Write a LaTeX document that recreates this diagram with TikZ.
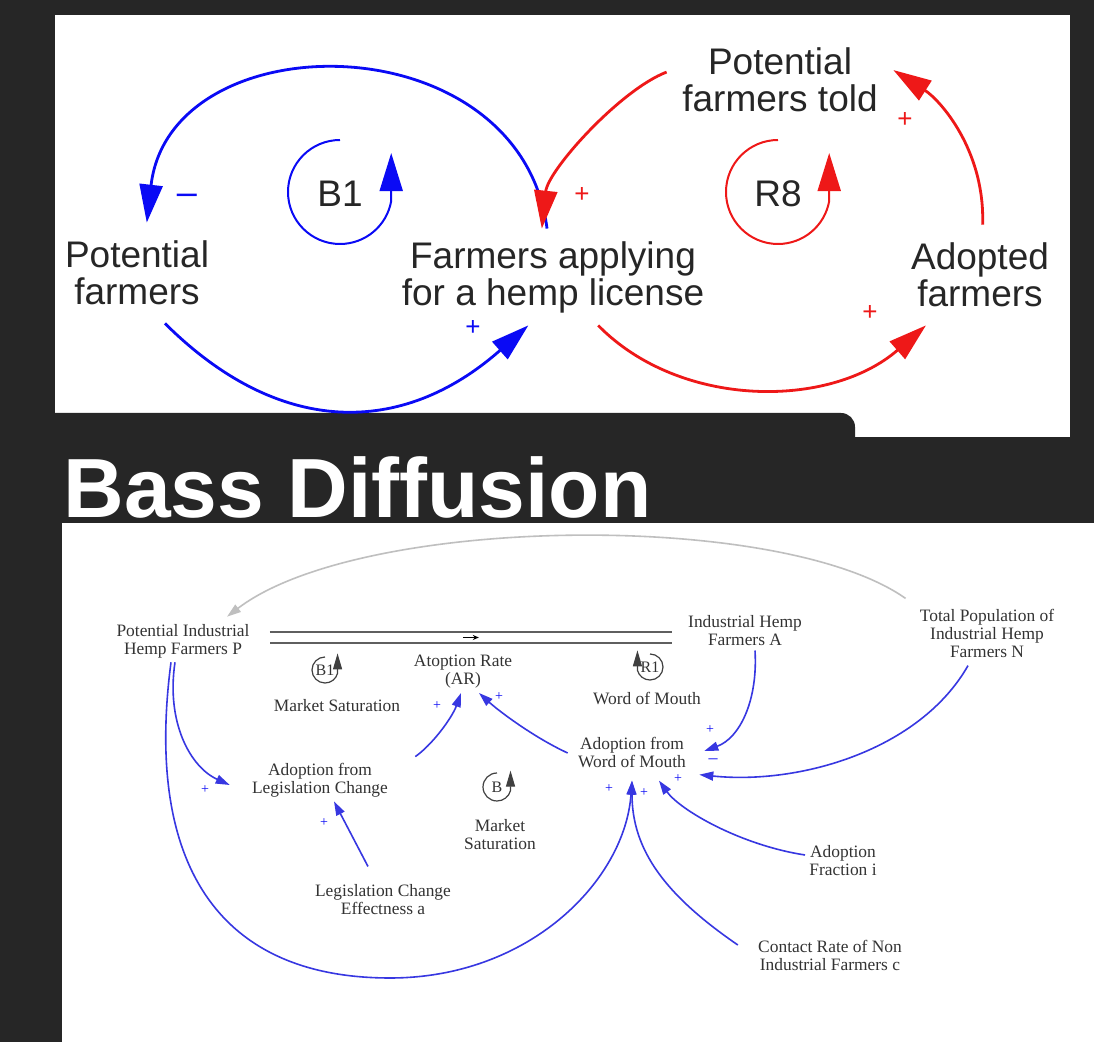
\documentclass[tikz,border=0pt]{standalone}
\usepackage{fontspec}
\setmainfont{Liberation Serif}
\newfontfamily\arialfont{Liberation Sans}
\usepackage{tikz}
\usetikzlibrary{arrows.meta,calc}

\definecolor{slide}{RGB}{38,38,38}
\definecolor{cldblue}{RGB}{10,10,245}
\definecolor{cldred}{RGB}{238,24,24}
\definecolor{bassblue}{RGB}{55,55,225}
\definecolor{pipegray}{RGB}{95,95,95}

\begin{document}
\begin{tikzpicture}[x=0.5pt, y=-0.5pt,
  bigtext/.style={font=\arialfont\fontsize{18.5}{18.5}\selectfont, align=center, text=black!85, inner sep=0pt},
  bigarr/.style={line width=1.4pt, -{Triangle[length=19pt,width=11.5pt]}},
  bigsign/.style={font=\arialfont\fontsize{13}{13}\selectfont, inner sep=0pt},
  smalltext/.style={font=\fontsize{8.7}{9}\selectfont, align=center, text=black!80, inner sep=2pt},
  smallarr/.style={draw=bassblue, line width=0.8pt, -{Triangle[length=7pt,width=4.5pt]}},
  smallsign/.style={font=\fontsize{7}{7}\selectfont, text=cldblue, inner sep=0pt},
  looptext/.style={font=\fontsize{8}{8}\selectfont, text=black!80, inner sep=0pt},
  looparr/.style={draw=black!75, line width=0.6pt, -{Triangle[length=8pt,width=4.5pt]}},
  pipe/.style={draw=pipegray, double=white, double distance=4.9pt, line width=0.6pt}
]

% slide background and panels
\useasboundingbox (0,0) rectangle (1094,1042);
\fill[slide] (0,0) rectangle (1094,1042);
\fill[white] (55,15) rectangle (1070,437);
\fill[slide, rounded corners=7pt] (0,413) rectangle (855,480);
\fill[white] (62,523) rectangle (1094,1042);

% upper loop diagram
\node[bigtext, minimum width=75pt, minimum height=50pt] (pf) at (137,273) {Potential\\farmers};
\node[bigtext, minimum width=155pt, minimum height=48pt] (fa) at (553,277) {Farmers applying\\for a hemp license};
\node[bigtext, minimum width=75pt, minimum height=50pt] (ad) at (980,275) {Adopted\\farmers};
\node[bigtext, minimum width=113pt, minimum height=45pt] (pt) at (780,80) {Potential\\farmers told};

\draw[cldblue, bigarr] (fa.97) .. controls (520,20) and (170,20) .. (pf.79);
\draw[cldblue, bigarr] (pf.-61) .. controls (279,437) and (402,437) .. (fa.-117);
\draw[cldred, bigarr] (pt.176) .. controls (620,90) and (548,170) .. (fa.103);
\draw[cldred, bigarr] (fa.-47) .. controls (680,409) and (830,409) .. (ad.-137);
\draw[cldred, bigarr] (ad.87) .. controls (985,150) and (940,100) .. (pt.5);

% loop markers
\node[bigtext] (lb1) at (340,194) {B1};
\draw[cldblue, line width=1pt, -{Triangle[length=19pt,width=11.5pt]}]
  (lb1) ++(0,-54) arc[start angle=270, end angle=10, radius=52] -- ++(0,-48);
\node[bigtext] (lr8) at (778,194) {R8};
\draw[cldred, line width=1pt, -{Triangle[length=19pt,width=11.5pt]}]
  (lr8) ++(0,-54) arc[start angle=270, end angle=10, radius=52] -- ++(0,-48);

% polarities
\node[bigsign, text=cldblue, font=\arialfont\fontsize{18}{18}\selectfont] (sgn1) at (187,199) {–};
\node[bigsign, text=cldblue] (sgn2) at (473,328) {+};
\node[bigsign, text=cldred] (sgn3) at (582,195) {+};
\node[bigsign, text=cldred] (sgn4) at (905,120) {+};
\node[bigsign, text=cldred] (sgn5) at (870,313) {+};

% title
\node[anchor=base west, inner sep=0pt, text=white, font=\arialfont\bfseries\fontsize{42}{42}\selectfont] (title) at (63,518) {Bass Diffusion};

% lower stock and flow diagram
\node[smalltext] (P) at (183,641) {Potential Industrial\\Hemp Farmers P};
\node[smalltext] (A) at (745,631) {Industrial Hemp\\Farmers A};
\node[smalltext] (N) at (987,633) {Total Population of\\Industrial Hemp\\Farmers N};
\node[smalltext] (AR) at (463,672) {Atoption Rate\\(AR)};
\node[smalltext] (WOM) at (632,753) {Adoption from\\Word of Mouth};
\node[smalltext] (LEG) at (320,780) {Adoption from\\Legislation Change};
\node[smalltext] (LCE) at (383,900) {Legislation Change\\Effectness a};
\node[smalltext] (AF) at (843,861) {Adoption\\Fraction i};
\node[smalltext] (CR) at (830,955) {Contact Rate of Non\\Industrial Farmers c};
\node[smalltext] (ms1) at (337,706) {Market Saturation};
\node[smalltext] (wm) at (647,699) {Word of Mouth};
\node[smalltext] (ms2) at (500,835) {Market\\Saturation};

% pipe
\path (P.east -| A.west) coordinate (pipeend);
\draw[pipe] ([xshift=8pt,yshift=1.75pt]P.east) -- ([xshift=-6pt,yshift=1.75pt]pipeend)
  node[midway, inner sep=0pt] (flow) {};
\draw[-{Stealth[length=3pt,width=2.5pt]}, line width=0.5pt] ([xshift=-4pt]flow.center) -- ([xshift=4pt]flow.center);

% links
\draw[draw=black!25, line width=0.8pt, -{Triangle[length=7pt,width=4.5pt]}]
  ([xshift=-5pt,yshift=3pt]N.north west) .. controls (780,510) and (360,515) .. ([xshift=22pt,yshift=1.5pt]P.north);
\draw[smallarr] ([xshift=-4pt]P.south) .. controls (166,722) and (190,767) .. ([xshift=-9pt,yshift=-2.5pt]LEG.west);
\draw[smallarr] ([xshift=-6pt]P.south) .. controls (145,860) and (215,978) .. (390,978)
  .. controls (530,978) and (625,880) .. ([yshift=-4pt]WOM.south);
\draw[smallarr] ([xshift=11.5pt,yshift=1pt]LEG.north east) .. controls (432,745) and (452,718) .. ([xshift=-1pt]AR.south);
\draw[smallarr] ([xshift=-3pt]WOM.west) .. controls (535,738) and (500,712) .. ([xshift=8pt]AR.south);
\draw[smallarr] ([xshift=5pt]A.south) .. controls (758,700) and (740,738) .. ([xshift=7pt,yshift=1pt]WOM.east);
\draw[smallarr] ([xshift=-9.5pt,yshift=-2pt]N.south) .. controls (920,750) and (800,785) .. ([xshift=4.5pt,yshift=-1pt]WOM.south east);
\draw[smallarr] ([yshift=3pt]AF.west) .. controls (740,845) and (680,810) .. ([xshift=13.5pt,yshift=-4pt]WOM.south);
\draw[smallarr] ([xshift=-8pt,yshift=5pt]CR.west) .. controls (665,895) and (632,850) .. ([yshift=-4pt]WOM.south);
\draw[smallarr] ([xshift=-7.5pt,yshift=7pt]LCE.north) -- ([xshift=7pt]LEG.south);

% small loop markers
\node[looptext] (mb1) at (325,670) {B1};
\draw[looparr] (mb1) ++(0,-13) arc[start angle=270, end angle=15, radius=13] -- ++(0,-20);
\node[looptext] (mr1) at (650,667) {R1};
\draw[looparr] (mr1) ++(0,-13) arc[start angle=-90, end angle=165, radius=13] -- ++(0,-20);
\node[looptext] (mb) at (497,787) {B};
\draw[looparr] (mb) ++(0,-14) arc[start angle=270, end angle=15, radius=14] -- ++(0,-20);

% link signs
\foreach \x/\y [count=\i] in {205/790, 437/706, 499/697, 710/730, 678/779, 609/789, 644/793, 324/823}
  \node[smallsign] (plus\i) at (\x,\y) {+};
\node[smallsign, font=\fontsize{9}{9}\selectfont] (minus1) at (713,761) {–};

\end{tikzpicture}
\end{document}
